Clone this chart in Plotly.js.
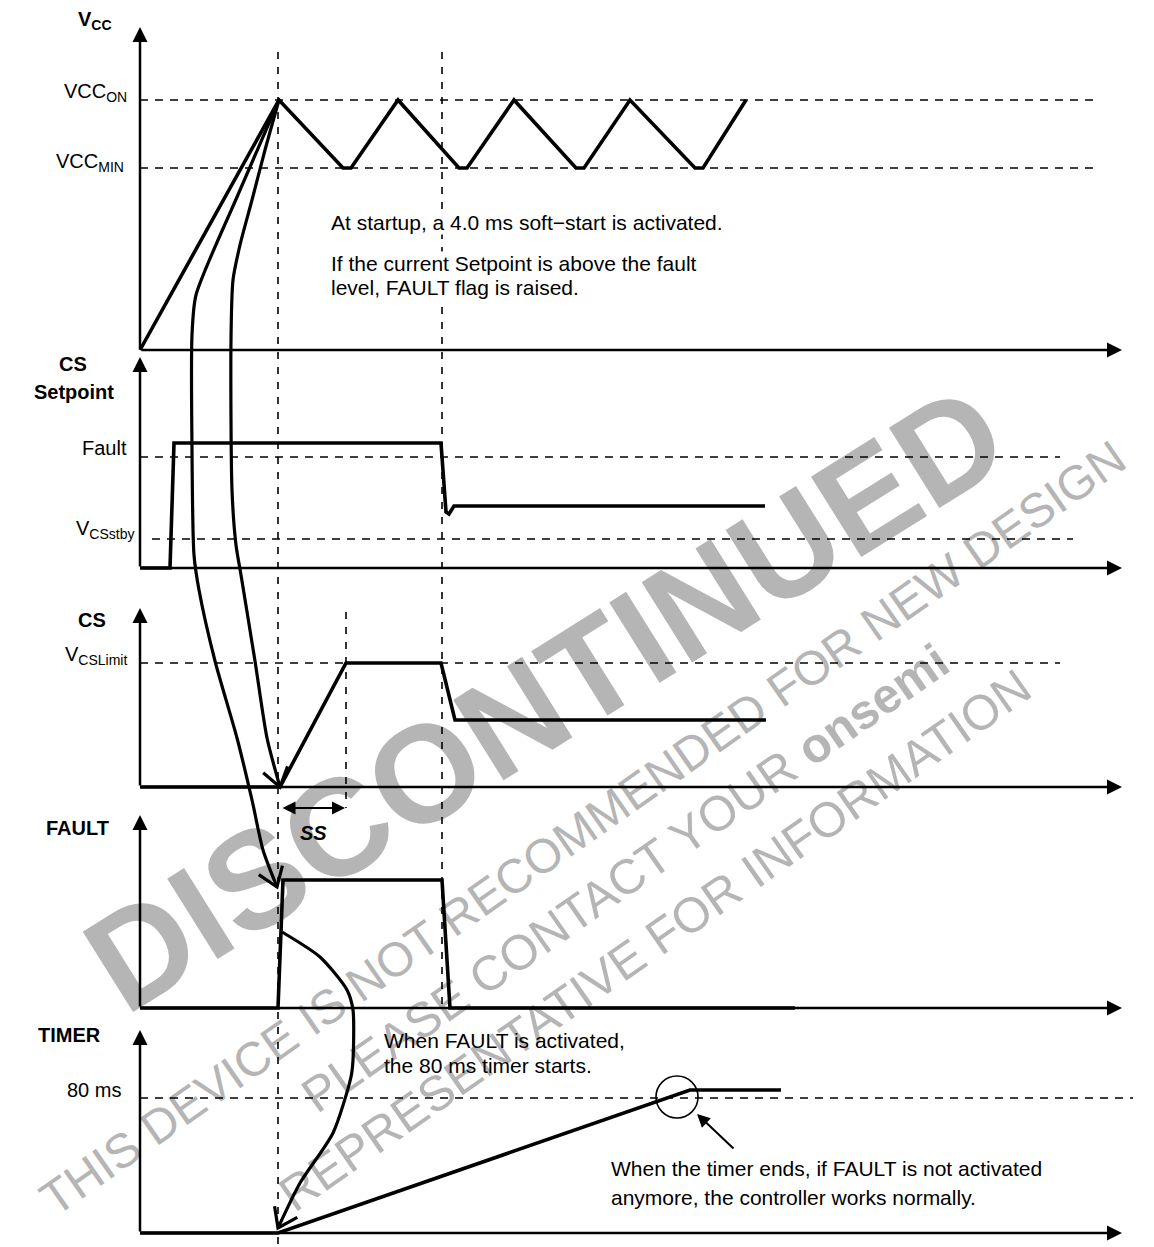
<!DOCTYPE html>
<html><head><meta charset="utf-8">
<script src="https://cdn.plot.ly/plotly-3.0.1.min.js"></script>
<style>
html,body{margin:0;padding:0;background:#fff;}
#wrap{position:relative;width:1154px;height:1247px;}
#wm,#chart{position:absolute;left:0;top:0;width:1154px;height:1247px;}
</style></head><body>
<div id="wrap"><div id="wm"></div><div id="chart"></div></div>
<script>
// ---- waveform data (time position, signal level position) ----
const vccT = [140, 279, 343, 351, 398, 459, 467, 514, 576, 584, 630, 695, 703, 746];
const vccY = [350, 100, 168, 168, 100, 168, 168, 100, 168, 168, 100, 168, 168, 100];
const csSetT = [140, 170, 174, 441, 446, 449, 454, 765];
const csSetY = [568, 568, 443, 443, 512, 514, 506, 506];
const csT = [140, 280, 346, 441, 455, 766];
const csY = [787, 787, 663, 663, 720, 720];
const faultT = [140, 278, 283, 442, 450, 795];
const faultY = [1008, 1008, 880, 880, 1008, 1008];
const timerT = [140, 278, 690, 781];
const timerY = [1233, 1233, 1090, 1090];
// causal arrows
const toFaultT = [279, 237, 196, 192, 192, 194, 199, 215, 237, 252, 263, 277];
const toFaultY = [100, 197, 295, 335, 450, 555, 590, 661, 738, 800, 850, 887];
const toCsT = [279, 265, 252, 240, 233, 231, 232, 236, 241, 255, 267, 280];
const toCsY = [100, 150, 200, 245, 280, 340, 490, 545, 575, 661, 738, 787];
const toTimerT = [282, 320, 347, 353, 353, 351, 333, 300, 278];
const toTimerY = [932, 957, 990, 1010, 1060, 1077, 1133, 1183, 1228];
// reference levels (dashed)
const refY = [100, 168, 457, 539, 663, 1098];
const refX0 = [140, 140, 140, 152, 140, 140];
const refX1 = [1100, 1100, 1060, 1073, 1060, 1133];
// time markers (dashed verticals)
const markX = [278, 442, 346];
const markTop = [52, 52, 612];
const markBot = [1245, 1008, 808];
// panel axes: origin y, top of vertical arrow
const panelBase = [350, 568, 787, 1008, 1233];
const panelTop = [27, 357, 608, 815, 1030];
const axisX = 140, axisEnd = 1122;
// soft-start span and callout arrow
const ssSpan = [281, 345], ssY = 808;
const calloutX = [735, 697], calloutY = [1150, 1114];

const FONT = 'Liberation Sans, Arial, Helvetica, sans-serif';

function baseLayout(bg){
  return {width:1154,height:1247,margin:{l:0,r:0,t:0,b:0},
    xaxis:{range:[0,1154],visible:false,fixedrange:true},
    yaxis:{range:[1247,0],visible:false,fixedrange:true},
    showlegend:false,paper_bgcolor:bg,plot_bgcolor:'rgba(0,0,0,0)',
    font:{family:FONT,size:20,color:'#000'}};
}

// ---- watermark layer (below) ----
const wmColor = '#b5b5b5';
const wmLayout = baseLayout('#ffffff');
wmLayout.annotations = [
  {text:'<b>DISCONTINUED</b>',x:545,y:698,textangle:-32,font:{size:138,color:wmColor,family:FONT}},
  {text:'THIS DEVICE IS NOT RECOMMENDED FOR NEW DESIGN',x:582,y:828,textangle:-35,font:{size:48,color:wmColor,family:FONT}},
  {text:'PLEASE CONTACT YOUR <b>onsemi</b>',x:625,y:878,textangle:-35,font:{size:49,color:wmColor,family:FONT}},
  {text:'REPRESENTATIVE FOR INFORMATION',x:655,y:940,textangle:-35,font:{size:49,color:wmColor,family:FONT}}
].map(a=>Object.assign({xref:'x',yref:'y',showarrow:false,xanchor:'center',yanchor:'middle'},a));
Plotly.newPlot('wm',[],wmLayout,{staticPlot:true,displayModeBar:false});

// ---- diagram layer ----
const traces = [];
function line(x,y,w,extra){ traces.push(Object.assign({type:'scatter',mode:'lines',x:x,y:y,hoverinfo:'skip',line:Object.assign({color:'#000',width:w},extra||{})})); }

// dashed reference levels
refY.forEach((y,i)=>line([refX0[i],refX1[i]],[y,y],1.6,{dash:'8px,7px'}));
markX.forEach((x,i)=>line([x,x],[markTop[i],markBot[i]],1.6,{dash:'7px,8px'}));

// waveforms
line(vccT,vccY,3.6);
line(csSetT,csSetY,3.6);
line(csT,csY,3.6);
line(faultT,faultY,3.6);
line(timerT,timerY,3.6);

// curved causal arrows with open heads
function barbs(xs,ys,L,ang){
  const n=xs.length, tx=xs[n-1], ty=ys[n-1];
  const dx=xs[n-2]-tx, dy=ys[n-2]-ty, d=Math.hypot(dx,dy);
  const ux=dx/d, uy=dy/d, a=ang*Math.PI/180;
  const rot=(c,s)=>[tx+L*(ux*c-uy*s), ty+L*(ux*s+uy*c)];
  const p1=rot(Math.cos(a),Math.sin(a)), p2=rot(Math.cos(a),-Math.sin(a));
  return {x:[p1[0],tx,p2[0]], y:[p1[1],ty,p2[1]]};
}
[[toFaultT,toFaultY],[toCsT,toCsY],[toTimerT,toTimerY]].forEach(([xs,ys])=>{
  line(xs,ys,3.2,{shape:'spline',smoothing:0.7});
  const b=barbs(xs,ys,22,35);
  line(b.x,b.y,3.2);
});

const L = baseLayout('rgba(0,0,0,0)');
const ann = [];
function arrow(x0,y0,x1,y1,w,size,side){
  ann.push({xref:'x',yref:'y',axref:'x',ayref:'y',x:x1,y:y1,ax:x0,ay:y0,text:'',showarrow:true,
    arrowhead:2,startarrowhead:2,arrowsize:size,startarrowsize:size,arrowwidth:w,arrowcolor:'#000',arrowside:side||'end',standoff:0,startstandoff:0});
}
panelBase.forEach((b,i)=>{
  arrow(axisX,b,axisX,panelTop[i],2.5,1.2);
  arrow(axisX,b,axisEnd,b,2.5,1.2);
});
arrow(ssSpan[0],ssY,ssSpan[1],ssY,2,1.3,'end+start');
arrow(calloutX[0],calloutY[0],calloutX[1],calloutY[1],2,1.3);

function txt(t,x,y,xa,extra){ ann.push(Object.assign({xref:'x',yref:'y',x:x,y:y,text:t,showarrow:false,xanchor:xa,yanchor:'middle',font:{family:FONT,size:20,color:'#000'}},extra||{})); }
txt('<b>V<sub>CC</sub></b>',76,20,'left');
txt('VCC<sub>ON</sub>',129,92,'right');
txt('VCC<sub>MIN</sub>',126,162,'right');
txt('<b>CS</b>',73,364,'center');
txt('<b>Setpoint</b>',74,392,'center');
txt('Fault',129,448,'right');
txt('V<sub>CSstby</sub>',136,529,'right');
txt('<b>CS</b>',92,620,'center');
txt('V<sub>CSLimit</sub>',129,655,'right');
txt('<b>FAULT</b>',44,828,'left');
txt('<b><i>SS</i></b>',313,833,'center',{font:{family:FONT,size:20,color:'#000'}});
txt('<b>TIMER</b>',36,1035,'left');
txt('80 ms',123,1090,'right');
const p = {font:{family:FONT,size:21,color:'#000'}};
const wb = Object.assign({bgcolor:'#ffffff',borderpad:0},p);
txt('At startup, a 4.0 ms soft\u2212start is activated.',330,222,'left',wb);
txt('If the current Setpoint is above the fault',330,263,'left',wb);
txt('level, FAULT flag is raised.',330,287,'left',wb);
txt('When FAULT is activated,',382,1040,'left',p);
txt('the 80 ms timer starts.',382,1065,'left',p);
txt('When the timer ends, if FAULT is not activated',609,1168,'left',p);
txt('anymore, the controller works normally.',609,1197,'left',p);
L.annotations = ann;
L.shapes = [{type:'circle',xref:'x',yref:'y',x0:656,x1:698,y0:1076,y1:1118,line:{color:'#000',width:1.6}}];
Plotly.newPlot('chart',traces,L,{staticPlot:true,displayModeBar:false});
</script></body></html>
